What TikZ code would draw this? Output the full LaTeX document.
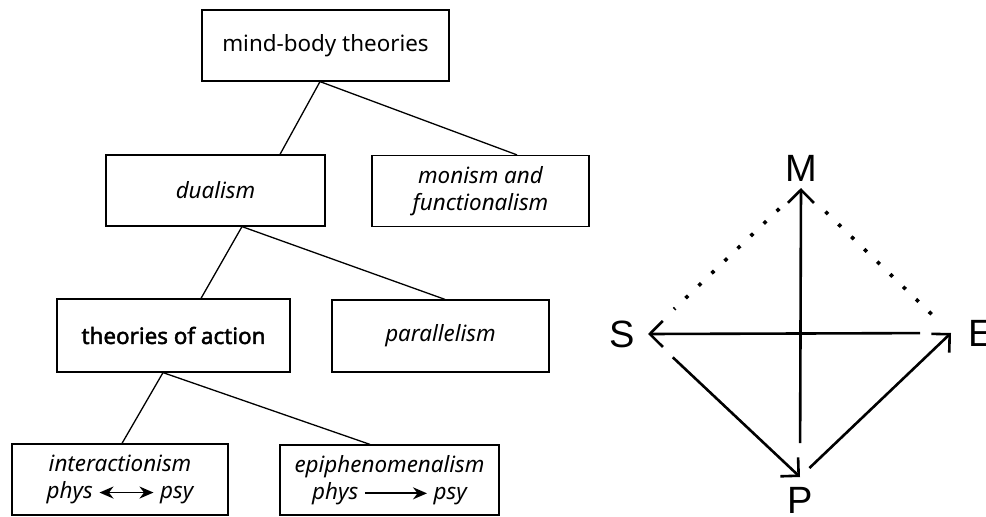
\documentclass[tikz,border=0pt]{standalone}
\usepackage{fontspec}
\setmainfont{Noto Sans}
\newfontfamily\strongfont{Noto Sans}[FakeBold=2]
\newfontfamily\letterfont{Liberation Sans}
\usetikzlibrary{positioning}
\usetikzlibrary{arrows.meta}

\newcommand{\twoway}{\tikz[baseline=-0.5ex]\draw[line width=1.8pt,{Stealth[length=14pt,width=12pt]}-{Stealth[length=14pt,width=12pt]}] (0,0) -- (54pt,0);}
\newcommand{\oneway}{\tikz[baseline=-0.5ex]\draw[line width=1.8pt,-{Stealth[length=14pt,width=12pt]}] (0,0) -- (62pt,0);}

\begin{document}
\begin{tikzpicture}
        [x=1pt, y=-1pt,
         box/.style={draw, line width=1.2pt, inner sep=0pt, align=center,
                     font=\fontsize{22.4}{27}\selectfont},
         link/.style={line width=1.3pt},
         letter/.style={inner sep=0pt, font=\letterfont\fontsize{38}{38}\selectfont},
         arr/.style={line width=2.6pt, -{Straight Barb[length=13pt,width=26pt]}},
         dots/.style={line width=3.6pt, dash pattern=on 3.6pt off 14.4pt}]
        \useasboundingbox (0,0) rectangle (986,517);
        \node [box, minimum width=247pt, minimum height=71pt] (mb) at (325.5,45.5) {mind-body theories};
        \node [box, minimum width=219pt, minimum height=71pt] (dual) at (215.5,190.5) {\itshape dualism};
        \node [box, minimum width=217pt, minimum height=71pt] (mon) at (480.5,191) {\itshape monism and\\\itshape functionalism};
        \node [box, minimum width=233pt, minimum height=73pt] (toa) at (173.5,335.5) {\strongfont theories of action};
        \node [box, minimum width=217pt, minimum height=72pt] (par) at (440.5,336) {\itshape parallelism};
        \node [box, minimum width=216pt, minimum height=71pt] (inter) at (120,479.5) {\itshape interactionism\\\itshape phys \twoway{} psy};
        \node [box, minimum width=219pt, minimum height=70pt] (epi) at (389.5,480) {\itshape epiphenomenalism\\\itshape phys \oneway{} psy};
        \draw [link] ([xshift=-5.5pt]mb.south) -- ([xshift=64.5pt]dual.north);
        \draw [link] ([xshift=-5.5pt]mb.south) -- ([xshift=36.5pt]mon.north);
        \draw [link] ([xshift=26.5pt]dual.south) -- ([xshift=27.5pt]toa.north);
        \draw [link] ([xshift=26.5pt]dual.south) -- ([xshift=4.5pt]par.north);
        \draw [link] ([xshift=-10.5pt]toa.south) -- ([xshift=2pt]inter.north);
        \draw [link] ([xshift=-10.5pt]toa.south) -- ([xshift=-19.5pt]epi.north);
        \coordinate (Mc) at (801,188);
        \coordinate (Sc) at (648,334);
        \coordinate (Ec) at (951,333);
        \coordinate (Pc) at (800,477);
        \node [letter, above=6pt of Mc] (M) {M};
        \node [letter, left=13pt of Sc] (S) {S};
        \node [letter, right=17pt of Ec] (E) {E};
        \node [letter, below=10pt of Pc] (P) {P};
        \draw [arr, shorten <=34pt] (Pc) -- (Mc);
        \draw [arr, shorten <=31pt] (Ec) -- (Sc);
        \draw [arr, shorten <=34pt] (Sc) -- (Pc);
        \draw [arr, shorten <=13pt] (Pc) -- (Ec);
        \draw [dots, shorten <=30pt, shorten >=36pt] (Mc) -- (Sc);
        \draw [dots, shorten <=34pt, shorten >=17pt] (Mc) -- (Ec);
    \end{tikzpicture}
\end{document}
